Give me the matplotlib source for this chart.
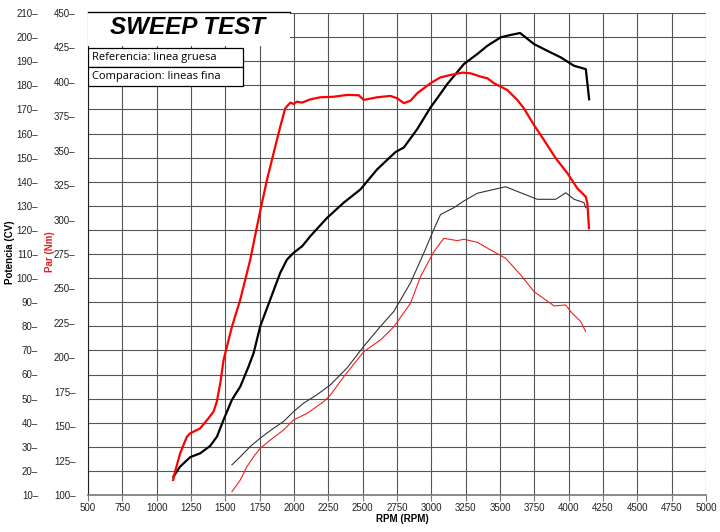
import matplotlib
matplotlib.use("Agg")
from matplotlib import pyplot as plt
from matplotlib.patches import Rectangle

# referencia (linea gruesa)
rpm_par_ref = [1120, 1134, 1171, 1220, 1244, 1317, 1377, 1414, 1438, 1463, 1487, 1548, 1608, 1681,
               1730, 1766, 1803, 1851, 1900, 1936, 1973, 1997, 2021, 2058, 2119, 2192, 2289, 2386,
               2471, 2508, 2605, 2702, 2751, 2800, 2848, 2897, 2994, 3067, 3140, 3225, 3286, 3359,
               3408, 3456, 3553, 3626, 3674, 3747, 3820, 3906, 3991, 4063, 4124, 4136, 4148]
par_ref = [110.9, 116.9, 130.3, 142.3, 144.8, 148.4, 155.7, 160.5, 167.8, 181.1, 198.0, 222.2, 241.6,
           270.7, 294.8, 311.8, 328.8, 348.1, 367.5, 380.8, 384.9, 384.0, 385.6, 384.9, 387.3, 388.8,
           389.2, 390.5, 390.3, 386.9, 388.8, 389.8, 388.1, 384.5, 386.3, 391.7, 399.0, 403.3, 405.0,
           406.7, 406.2, 403.8, 402.6, 399.0, 394.1, 386.9, 380.8, 368.7, 357.8, 344.5, 333.6, 322.7,
           316.6, 311.8, 293.7]

rpm_cv_ref = [1122, 1171, 1244, 1317, 1390, 1439, 1487, 1548, 1609, 1669, 1706, 1754, 1827, 1900,
              1949, 1997, 2059, 2119, 2241, 2362, 2484, 2605, 2739, 2800, 2897, 2994, 3055, 3116,
              3237, 3335, 3408, 3505, 3578, 3646, 3748, 3845, 3942, 4039, 4125, 4149]
cv_ref = [17.6, 21.8, 25.7, 27.3, 30.4, 34.2, 41.2, 49.5, 55.0, 63.3, 68.9, 80.0, 91.1, 102.2,
          107.7, 110.5, 113.2, 117.4, 125.0, 131.3, 136.8, 145.1, 152.3, 154.2, 161.8, 170.8, 175.6,
          180.5, 188.8, 193.0, 196.4, 199.9, 200.9, 201.7, 197.1, 194.3, 191.6, 188.1, 186.7, 174.2]

# comparacion (lineas fina)
rpm_cv_cmp = [1548, 1609, 1681, 1754, 1851, 1924, 1997, 2070, 2167, 2265, 2386, 2508, 2630, 2727,
              2848, 2946, 3018, 3067, 3164, 3237, 3334, 3456, 3541, 3651, 3772, 3906, 3979, 4040,
              4112, 4124]
cv_cmp = [22.5, 25.9, 30.1, 33.6, 37.7, 40.5, 44.6, 48.1, 51.6, 55.7, 62.7, 71.7, 80.0, 86.2,
          98.0, 110.5, 120.2, 126.4, 129.2, 132.0, 135.2, 136.8, 137.9, 135.4, 132.7, 132.7, 135.4,
          132.7, 131.3, 129.2]

rpm_par_cmp = [1548, 1609, 1657, 1706, 1754, 1827, 1924, 1997, 2095, 2216, 2265, 2362, 2508, 2630,
               2727, 2848, 2921, 3018, 3091, 3189, 3237, 3335, 3432, 3541, 3651, 3748, 3894, 3979,
               4015, 4088, 4124]
par_cmp = [102.4, 110.9, 120.6, 127.8, 133.9, 139.9, 147.2, 154.5, 159.3, 167.8, 172.6, 185.9,
           204.1, 212.6, 222.2, 239.2, 258.5, 276.7, 286.4, 284.7, 285.7, 283.5, 277.9, 271.9,
           259.8, 247.6, 237.3, 238.0, 233.1, 225.9, 218.6]

rpm_ticks = list(range(500, 5001, 250))
par_ticks = list(range(100, 451, 25))
cv_ticks = list(range(10, 211, 10))

tick_font = ['Liberation Sans Narrow', 'Liberation Sans', 'DejaVu Sans']
plt.rcParams['font.family'] = ['Liberation Sans', 'DejaVu Sans']

fig = plt.figure(figsize=(7.2, 5.32), dpi=100)
ax = fig.add_axes([88/720, 1 - 495/532, 618/720, 482/532])
ax2 = ax.twinx()
ax2.set_zorder(0)
ax.set_zorder(1)
ax.patch.set_visible(False)

# potencia (CV) axis, on the left, outside
ax2.set_ylim(10, 209.7)
ax2.set_xlim(500, 5000)
ax2.yaxis.tick_left()
ax2.spines['left'].set_position(('outward', 36))
for s in ax2.spines.values():
    s.set_visible(False)
ax2.set_yticks(cv_ticks)
ax2.set_yticklabels(['%d–' % v for v in cv_ticks], family=tick_font, fontsize=7, color='#222222')
ax2.tick_params(axis='y', length=0, pad=0)
ax2.xaxis.set_visible(True)
ax2.set_xticks(rpm_ticks)
ax2.tick_params(axis='x', length=0, labelbottom=False, labeltop=False)
ax2.grid(True, color='#555555', lw=0.8)
ax2.set_axisbelow(True)

# par (Nm) axis
ax.set_xlim(500, 5000)
ax.set_ylim(100, 450)
ax.set_yticks(par_ticks)
ax.set_yticklabels(['%d–' % v for v in par_ticks], family=tick_font, fontsize=7, color='#222222')
ax.tick_params(axis='y', length=0, pad=9)
ax.set_xticks(rpm_ticks)
ax.set_xticklabels([str(v) for v in rpm_ticks], family=tick_font, fontsize=7, color='#222222')
ax.tick_params(axis='x', length=4, pad=2, color='#777777')
ax.spines['top'].set_visible(False)
ax.spines['right'].set_visible(False)
ax.spines['left'].set_color('#222222')
ax.spines['bottom'].set_color('#777777')
ax.spines['bottom'].set_linewidth(1.2)

ax2.plot(rpm_cv_cmp, cv_cmp, color='#333333', lw=0.8)
ax2.plot(rpm_cv_ref, cv_ref, color='black', lw=1.6)
ax.plot(rpm_par_cmp, par_cmp, color='#f02020', lw=0.8)
ax.plot(rpm_par_ref, par_ref, color='#ff0000', lw=1.6)

# title box
ax.add_patch(Rectangle((0, 0.932), 0.327, 0.07, transform=ax.transAxes, facecolor='white',
                       edgecolor='none', zorder=3, clip_on=False))
ax.plot([0, 0.327], [1.002, 1.002], transform=ax.transAxes, color='black', lw=1, clip_on=False, zorder=4)
ax.text(0.162, 0.969, 'SWEEP TEST', transform=ax.transAxes, fontsize=17.5, fontweight='bold',
        fontstyle='italic', ha='center', va='center', zorder=5)

# referencia / comparacion boxes
labels = ['Referencia: linea gruesa', 'Comparacion: lineas fina']
for i, lab in enumerate(labels):
    y0 = 0.888 - i * 0.0395
    ax.add_patch(Rectangle((0, y0), 0.251, 0.0395, transform=ax.transAxes, facecolor='white',
                           edgecolor='black', lw=0.9, zorder=3))
    ax.text(0.006, y0 + 0.019, lab, transform=ax.transAxes, fontsize=8, family='Open Sans',
            va='center', ha='left', zorder=5)

fig.text(10/720, 1 - 252/532, 'Potencia (CV)', rotation=90, fontsize=7, fontweight='bold',
         ha='center', va='center')
fig.text(50/720, 1 - 252/532, 'Par (Nm)', rotation=90, fontsize=7, fontweight='bold',
         color='#e02020', ha='center', va='center')
fig.text(402/720, 1 - 519/532, 'RPM (RPM)', fontsize=7, fontweight='bold', ha='center', va='center')

fig.savefig('out.png', dpi=100)
